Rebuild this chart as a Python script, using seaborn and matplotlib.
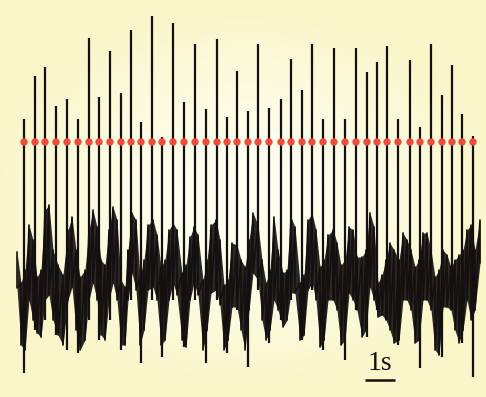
import numpy as np
import matplotlib
matplotlib.use("Agg")
import matplotlib.pyplot as plt
import seaborn as sns

# spike positions (x, px) and peak / trough levels (y, px from top)
spike_x = [24, 35, 45, 56, 67, 78, 89, 99, 110, 121, 131, 141, 152, 162, 173,
           184, 195, 206, 217, 227, 237, 248, 258, 269, 281, 291, 302, 312, 323,
           334, 345, 356, 367, 377, 387, 398, 410, 420, 431, 442, 452, 462, 473]
spike_peak = [119, 76, 67, 106, 99, 119, 38, 97, 51, 93, 30, 122, 16, 137, 23,
              102, 44, 109, 39, 117, 71, 111, 44, 108, 99, 59, 90, 44, 119,
              48, 119, 48, 72, 62, 46, 119, 60, 127, 44, 95, 65, 114, 136]
spike_low = [373, 330, 320, 335, 350, 353, 320, 340, 320, 350, 300, 363, 300,
             357, 300, 347, 300, 363, 300, 353, 310, 367, 290, 343, 320, 300,
             340, 290, 350, 300, 360, 310, 337, 310, 320, 345, 300, 368, 300,
             357, 310, 343, 377]
threshold = 142

# noisy baseline band: sample x and upper / lower edge
band_x = [17, 21, 25, 29, 33, 37, 41, 45, 49, 53, 58, 63, 68, 72, 76, 80, 85,
          89, 93, 97, 101, 105, 109, 113, 117, 121, 125, 128, 132, 136, 140,
          144, 148, 153, 157, 161, 165, 169, 173, 177, 182, 186, 190, 194, 198,
          203, 207, 211, 216, 220, 224, 228, 232, 237, 241, 245, 249, 253, 258,
          262, 266, 270, 274, 278, 283, 287, 291, 295, 300, 304, 308, 312, 316,
          320, 324, 328, 333, 337, 341, 345, 349, 353, 357, 362, 366, 370, 374,
          378, 382, 386, 390, 394, 399, 403, 407, 411, 415, 419, 423, 427, 431,
          435, 439, 443, 447, 451, 455, 459, 463, 467, 471, 475, 480]
band_top = [252, 283, 270, 225, 240, 277, 270, 210, 205, 250, 265, 275, 230,
            217, 250, 277, 270, 230, 210, 227, 260, 265, 230, 207, 220, 280,
            287, 250, 213, 220, 277, 260, 225, 220, 235, 267, 260, 230, 223,
            230, 273, 265, 237, 227, 235, 280, 260, 225, 220, 240, 285, 280,
            243, 245, 260, 267, 240, 213, 225, 260, 283, 270, 217, 250, 273,
            270, 217, 227, 283, 275, 220, 213, 230, 267, 260, 235, 230, 243,
            265, 260, 227, 230, 257, 257, 250, 213, 227, 283, 275, 260, 243,
            250, 260, 233, 240, 250, 267, 260, 233, 233, 250, 277, 270, 250,
            255, 267, 260, 255, 250, 230, 225, 250, 220]
band_bottom = [288, 345, 350, 300, 320, 333, 337, 300, 295, 320, 335, 345, 300,
               287, 330, 350, 340, 300, 283, 300, 335, 340, 300, 283, 300, 345,
               345, 300, 273, 290, 345, 330, 290, 287, 300, 345, 340, 300, 283,
               295, 340, 347, 300, 283, 295, 350, 330, 293, 290, 305, 350, 340,
               307, 307, 330, 350, 310, 273, 280, 320, 340, 330, 300, 310, 327,
               320, 293, 293, 340, 335, 290, 283, 300, 347, 340, 300, 300, 310,
               345, 340, 293, 300, 310, 337, 330, 287, 300, 317, 315, 320, 330,
               343, 340, 300, 300, 310, 343, 340, 300, 300, 310, 350, 355, 307,
               307, 310, 330, 343, 330, 300, 320, 310, 263]

px_per_s = 30
scale_x0, scale_y = 365, 380

sns.set_theme(style="white")
fig = plt.figure(figsize=(4.86, 3.97), dpi=100)
ax = fig.add_axes([0, 0, 1, 1])
ax.set_xlim(0, 486)
ax.set_ylim(397, 0)
ax.axis("off")

# pale yellow background, lighter in the middle
gy, gx = np.mgrid[-1:1:200j, -1:1:240j]
r = np.clip(np.sqrt((gx * 0.95) ** 2 + (gy * 1.05) ** 2), 0, 1)
edge = np.array([250, 246, 202]) / 255
centre = np.array([255, 255, 244]) / 255
bg = centre + (edge - centre) * (r[..., None] ** 1.4)
ax.imshow(bg, extent=(0, 486, 397, 0), aspect="auto", zorder=0)

ink = "#141010"
ax.fill_between(band_x, band_top, band_bottom, color=ink, alpha=0.9, lw=0, zorder=2)

zig_x = np.repeat(band_x, 2)
zig_y = np.ravel(np.column_stack([band_top, band_bottom]))
sns.lineplot(x=zig_x, y=zig_y, sort=False, estimator=None, color=ink,
             lw=1.2, ax=ax, zorder=3)

ax.vlines(spike_x, spike_peak, spike_low, color=ink, lw=1.6, zorder=4)

sns.scatterplot(x=spike_x, y=[threshold] * len(spike_x), color="#EE4B3B",
                s=28, edgecolor="none", ax=ax, zorder=5)

# scale bar
ax.plot([scale_x0, scale_x0 + px_per_s], [scale_y, scale_y], color=ink,
        lw=1.8, solid_capstyle="butt", zorder=5)
ax.text(scale_x0 + px_per_s / 2, scale_y - 4, "1s", family="Liberation Serif",
        fontsize=20, ha="center", va="bottom", color=ink, zorder=5)

fig.savefig("out.png", dpi=100)
